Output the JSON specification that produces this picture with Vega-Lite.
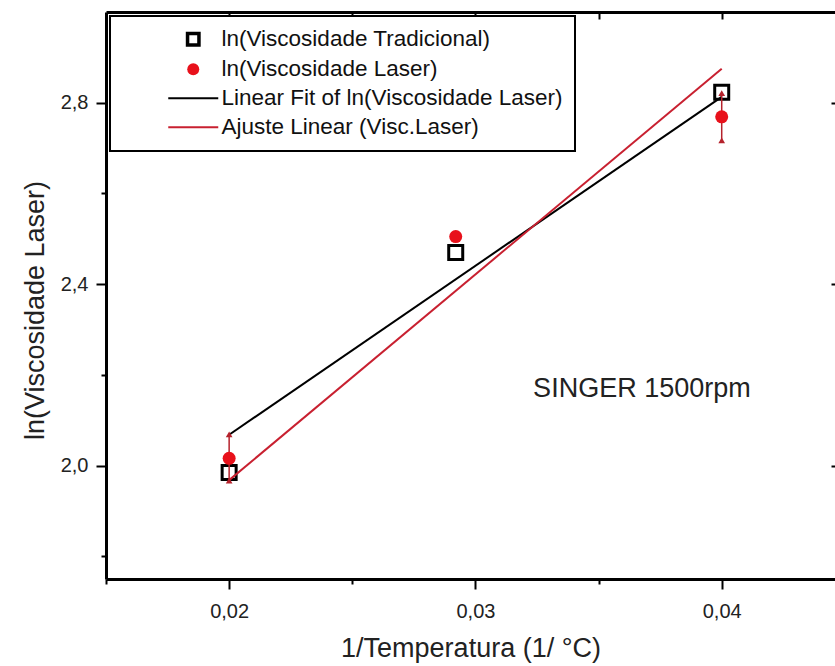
{
  "$schema": "https://vega.github.io/schema/vega-lite/v6.json",
  "width": 729,
  "height": 567,
  "autosize": {"type": "none"},
  "padding": {"left": 106, "top": 12, "right": 0, "bottom": 87},
  "background": "white",
  "config": {"view": {"stroke": null}, "font": "Liberation Sans"},
  "datasets": {
    "trad": [
      {"x": 0.02, "y": 1.985},
      {"x": 0.0292, "y": 2.47},
      {"x": 0.04, "y": 2.823}
    ],
    "laser": [
      {"x": 0.02, "y": 2.016, "lo": 1.967, "hi": 2.069},
      {"x": 0.0292, "y": 2.505, "lo": null, "hi": null},
      {"x": 0.04, "y": 2.769, "lo": 2.717, "hi": 2.821}
    ],
    "fits": [
      {"serie": "Linear Fit of ln(Viscosidade Laser)", "x": 0.02, "y": 2.068},
      {"serie": "Linear Fit of ln(Viscosidade Laser)", "x": 0.04, "y": 2.813},
      {"serie": "Ajuste Linear (Visc.Laser)", "x": 0.02, "y": 1.968},
      {"serie": "Ajuste Linear (Visc.Laser)", "x": 0.04, "y": 2.875}
    ],
    "note": [
      {"x": 0.03676, "y": 2.168, "label": "SINGER 1500rpm"}
    ]
  },
  "layer": [
    {
      "data": {"name": "trad"},
      "mark": {"type": "point", "shape": "square", "size": 196, "filled": false, "fill": "white", "fillOpacity": 1, "strokeWidth": 3, "opacity": 1},
      "encoding": {
        "x": {"field": "x", "type": "quantitative",
          "scale": {"domain": [0.015, 0.0446], "nice": false, "zero": false},
          "axis": {"orient": "top", "values": [0.02, 0.025, 0.03, 0.035, 0.04], "labels": false, "title": null, "grid": false,
            "tickSize": -7, "tickWidth": 2, "tickColor": "black", "domainWidth": 3, "domainColor": "black"}},
        "y": {"field": "y", "type": "quantitative",
          "scale": {"domain": [1.75, 3.0], "nice": false, "zero": false},
          "axis": {"orient": "right", "values": [2.0, 2.4, 2.8], "labels": false, "title": null, "grid": false, "domain": false,
            "tickSize": -4, "tickWidth": 2, "tickColor": "black"}},
        "color": {"datum": "ln(Viscosidade Tradicional)"}
      }
    },
    {
      "data": {"name": "fits"},
      "mark": {"type": "line", "strokeWidth": 2},
      "encoding": {
        "x": {"field": "x", "type": "quantitative",
          "axis": {"orient": "bottom", "values": [0.015, 0.02, 0.025, 0.03, 0.035, 0.04], "grid": false,
            "labelExpr": "abs(datum.value*100 - round(datum.value*100)) < 1e-6 ? replace(format(datum.value, '.2f'), '.', ',') : ''",
            "tickSize": {"condition": {"test": "abs(datum.value*100 - round(datum.value*100)) < 1e-6", "value": 10}, "value": 5},
            "tickWidth": 2, "tickColor": "black", "domainWidth": 3, "domainColor": "black",
            "labelFontSize": 20, "labelColor": "#222", "labelPadding": 12, "labelFlush": false,
            "title": "1/Temperatura (1/ °C)", "titleFontSize": 27, "titleFontWeight": "normal", "titleColor": "#222",
            "titleY": 69, "titleBaseline": "middle"}},
        "y": {"field": "y", "type": "quantitative",
          "axis": {"orient": "left", "values": [1.8, 2.0, 2.2, 2.4, 2.6, 2.8], "grid": false,
            "labelExpr": "abs(datum.value*2.5 - round(datum.value*2.5)) < 1e-6 ? replace(format(datum.value, '.1f'), '.', ',') : ''",
            "tickSize": {"condition": {"test": "abs(datum.value*2.5 - round(datum.value*2.5)) < 1e-6", "value": 10}, "value": 5},
            "tickWidth": 2, "tickColor": "black", "domainWidth": 3, "domainColor": "black",
            "labelFontSize": 20, "labelColor": "#222", "labelPadding": 8, "labelFlush": false,
            "title": "ln(Viscosidade Laser)", "titleFontSize": 27, "titleFontWeight": "normal", "titleColor": "#222",
            "titleX": -71, "titleY": 298, "titleAngle": -90, "titleBaseline": "middle", "titleAlign": "center"}},
        "color": {"field": "serie", "type": "nominal",
          "scale": {
            "domain": ["ln(Viscosidade Tradicional)", "ln(Viscosidade Laser)", "Linear Fit of ln(Viscosidade Laser)", "Ajuste Linear (Visc.Laser)"],
            "range": ["black", "#e8111b", "black", "#c82030"]},
          "legend": {
            "orient": "none", "legendX": 4, "legendY": 4, "title": null,
            "labelFontSize": 22.5, "labelFont": "Liberation Sans", "labelColor": "#111", "labelLimit": 0,
            "symbolSize": 484, "rowPadding": 6, "symbolOffset": 60, "labelOffset": 17, "padding": 12,
            "strokeColor": "black", "fillColor": "white",
            "encode": {
              "legend": {"update": {"strokeWidth": {"value": 2}}},
              "symbols": {
                "update": {
                  "shape": {"signal": "datum.index == 0 ? 'square' : datum.index == 1 ? 'circle' : 'stroke'"},
                  "size": {"signal": "datum.index == 0 ? 130 : datum.index == 1 ? 144 : 2500"},
                  "fill": {"signal": "datum.index == 1 ? '#e8111b' : 'transparent'"},
                  "fillOpacity": {"signal": "datum.index == 1 ? 1 : 0"},
                  "opacity": {"value": 1},
                  "stroke": {"signal": "datum.index == 0 ? 'black' : datum.index == 1 ? '#e8111b' : datum.index == 2 ? 'black' : '#c82030'"},
                  "strokeWidth": {"signal": "datum.index == 0 ? 3.5 : datum.index == 1 ? 0 : 2"}
                }
              }
            }
          }}
      }
    },
    {
      "data": {"name": "laser"},
      "mark": {"type": "rule", "color": "#b5222c", "strokeWidth": 1.5},
      "encoding": {
        "x": {"field": "x", "type": "quantitative", "axis": null},
        "y": {"field": "lo", "type": "quantitative", "axis": null},
        "y2": {"field": "hi"}
      }
    },
    {
      "data": {"name": "laser"},
      "mark": {"type": "point", "shape": "triangle-up", "size": 45, "filled": true, "color": "#b5222c", "opacity": 1},
      "encoding": {
        "x": {"field": "x", "type": "quantitative", "axis": null},
        "y": {"field": "lo", "type": "quantitative", "axis": null}
      }
    },
    {
      "data": {"name": "laser"},
      "mark": {"type": "point", "shape": "triangle-up", "size": 45, "filled": true, "color": "#b5222c", "opacity": 1},
      "encoding": {
        "x": {"field": "x", "type": "quantitative", "axis": null},
        "y": {"field": "hi", "type": "quantitative", "axis": null}
      }
    },
    {
      "data": {"name": "laser"},
      "mark": {"type": "point", "shape": "circle", "size": 169, "filled": true, "opacity": 1},
      "encoding": {
        "x": {"field": "x", "type": "quantitative", "axis": null},
        "y": {"field": "y", "type": "quantitative", "axis": null},
        "color": {"datum": "ln(Viscosidade Laser)"}
      }
    },
    {
      "data": {"name": "note"},
      "mark": {"type": "text", "fontSize": 27, "color": "#222", "font": "Liberation Sans", "baseline": "middle", "align": "center"},
      "encoding": {
        "x": {"field": "x", "type": "quantitative", "axis": null},
        "y": {"field": "y", "type": "quantitative", "axis": null},
        "text": {"field": "label"}
      }
    }
  ],
  "resolve": {"axis": {"x": "independent", "y": "independent"}}
}
